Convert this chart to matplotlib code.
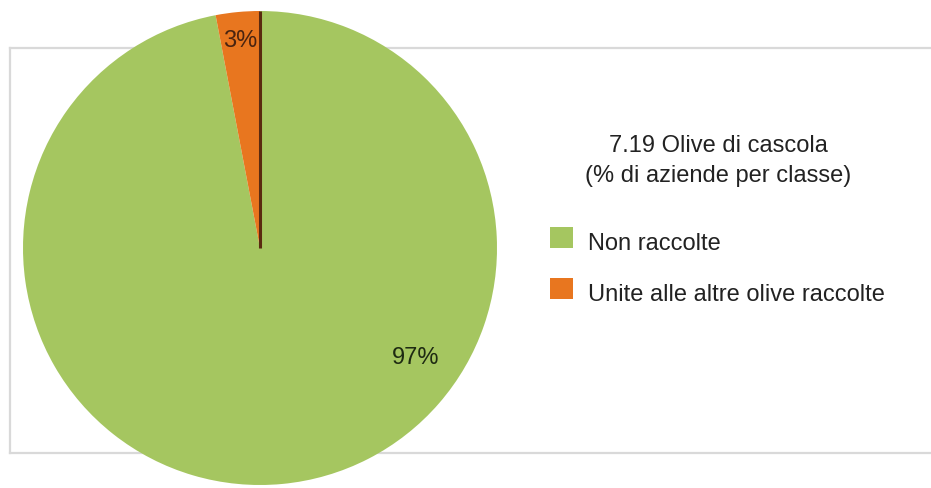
import numpy as np
import matplotlib
matplotlib.use("Agg")
import matplotlib.pyplot as plt
from matplotlib.lines import Line2D

# Data
categories = ["Non raccolte", "Unite alle altre olive raccolte"]
shares = [97, 3]
share_labels = ["97%", "3%"]
title_lines = ["7.19 Olive di cascola", "(% di aziende per classe)"]

colors = ["#A5C660", "#E8761F"]
FONT = ["Liberation Sans", "DejaVu Sans"]
FS = 17
START = 90

W, H = 931, 489
fig = plt.figure(figsize=(W / 100, H / 100), dpi=100)
fig.patch.set_facecolor("white")

# Axes spanning the figure, one data unit per pixel (y measured from the top)
ax = fig.add_axes([0, 0, 1, 1])


def py(y):
    return H - y


# Pie, starting at twelve o'clock and running clockwise
cx, cy, r = 260, py(249), 237
wedges, _ = ax.pie(shares, colors=colors, startangle=START, counterclock=False,
                   center=(cx, cy), radius=r, frame=True,
                   wedgeprops=dict(linewidth=0))
ax.set_xlim(0, W)
ax.set_ylim(0, H)
ax.set_aspect("equal")
ax.axis("off")

# Light frame around the panel
frame_kw = dict(color="#d9d9d9", lw=1.6, zorder=0)
ax.add_line(Line2D([9.5, 9.5], [py(49), py(454)], **frame_kw))
ax.add_line(Line2D([9.5, W], [py(49), py(49)], **frame_kw))
ax.add_line(Line2D([9.5, W], [py(454), py(454)], **frame_kw))

# Dark edge where the small wedge meets the start of the pie
ang = np.deg2rad(START)
ax.plot([cx, cx + r * np.cos(ang)], [cy, cy + r * np.sin(ang)],
        color="#5a2a10", lw=2.2, solid_capstyle="butt", zorder=5)

# Percentage labels
lab97_ang = np.deg2rad(-35)
ax.text(cx + 0.80 * r * np.cos(lab97_ang), cy + 0.80 * r * np.sin(lab97_ang),
        share_labels[0], ha="center", va="center", fontsize=FS, family=FONT,
        color="#1e2a12", zorder=6)
w = wedges[1]
mid = np.deg2rad((w.theta1 + w.theta2) / 2)
ax.text(cx + 0.88 * r * np.cos(mid), cy + 0.88 * r * np.sin(mid),
        share_labels[1], ha="center", va="center", fontsize=FS, family=FONT,
        color="#4a2410", zorder=6)

# Title
ax.text(718, py(152), title_lines[0], ha="center", va="baseline",
        fontsize=FS, family=FONT, color="#222222")
ax.text(718, py(182), title_lines[1], ha="center", va="baseline",
        fontsize=FS, family=FONT, color="#222222")

# Legend entries
for i, (cat, col) in enumerate(zip(categories, colors)):
    top = 228 + 51 * i
    ax.add_patch(plt.Rectangle((550, py(top + 21)), 23, 21, color=col, lw=0))
    ax.text(588, py(250 + 51 * i), cat, ha="left", va="baseline",
            fontsize=FS, family=FONT, color="#222222")

fig.savefig("out.png", dpi=100, facecolor="white")
